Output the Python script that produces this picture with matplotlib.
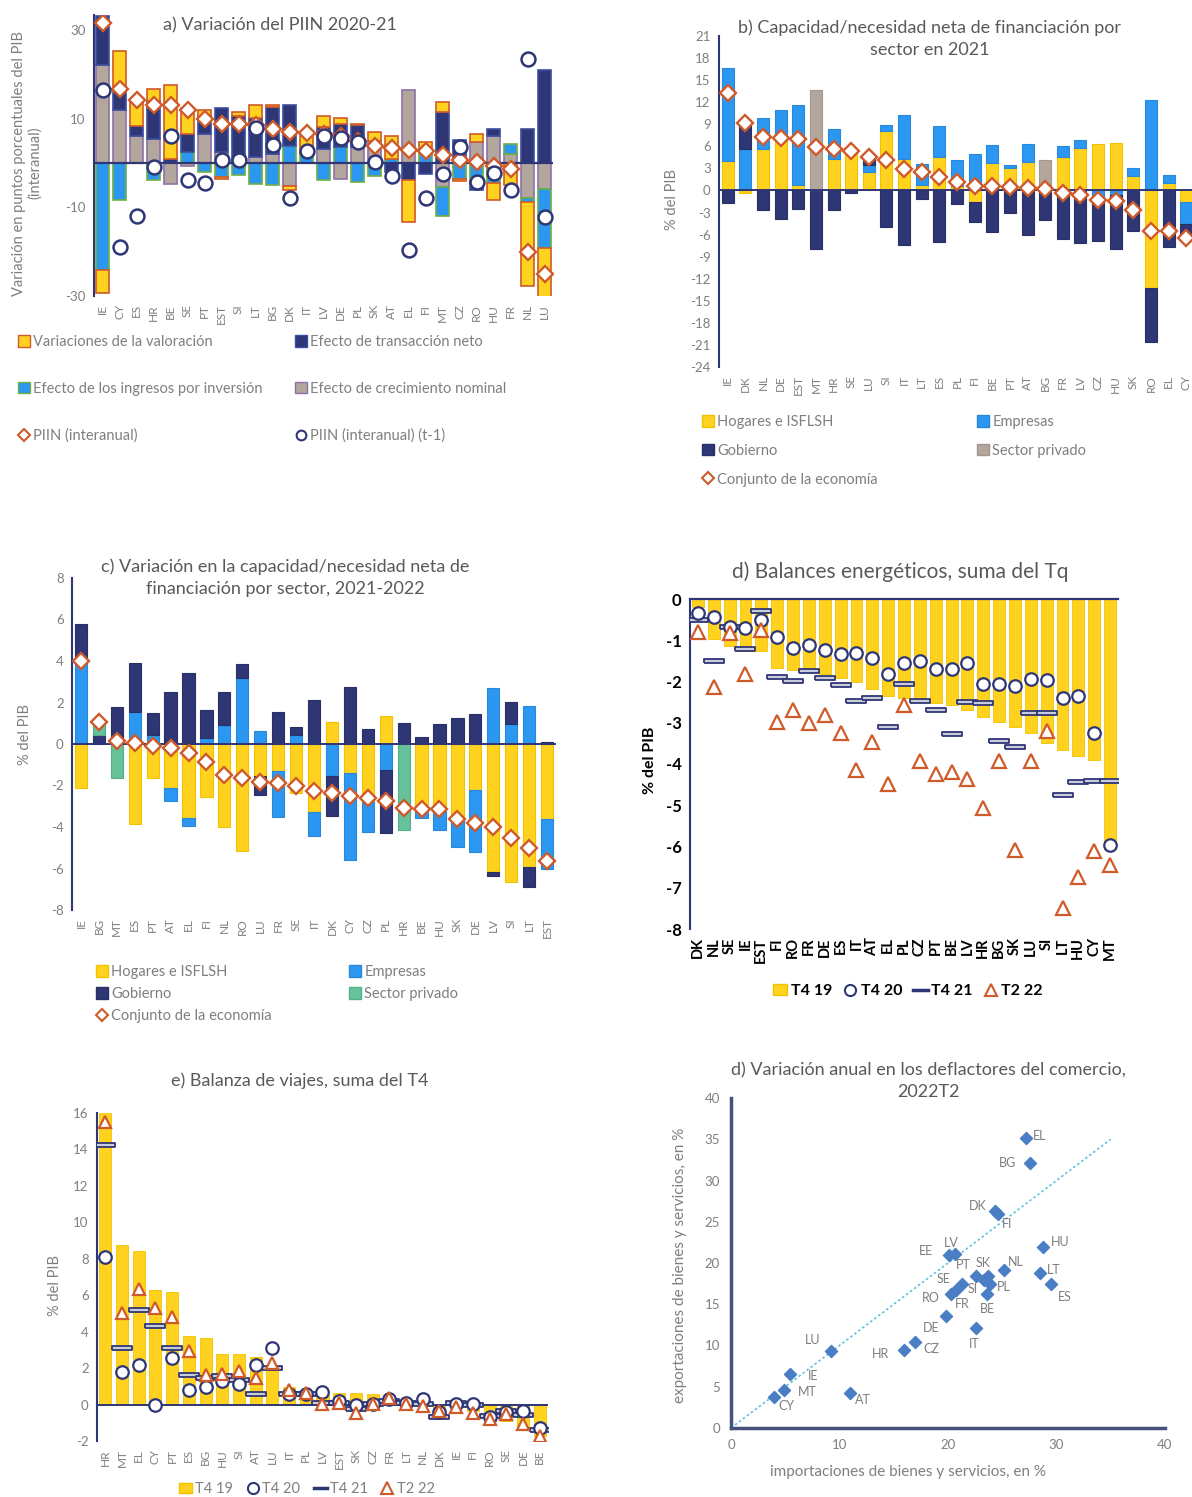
import numpy as np
import matplotlib
matplotlib.use("Agg")
import matplotlib.pyplot as plt
from matplotlib.patches import Patch
from matplotlib.lines import Line2D

# ---------------- data ----------------
# a) Variación del PIIN 2020-21
paises_a = ['IE', 'CY', 'ES', 'HR', 'BE', 'SE', 'PT', 'EST', 'SI', 'LT', 'BG', 'DK', 'IT', 'LV',
            'DE', 'PL', 'SK', 'AT', 'EL', 'FI', 'MT', 'CZ', 'RO', 'HU', 'FR', 'NL', 'LU']
crecimiento_a = [22, 11.9, 6, 5.5, -4.7, -0.7, 6.6, 2.5, 0, 1.4, 2.1, -5.2, 0, 3.2,
                 -3.5, 3.5, 5, 0, 16.5, 0, -5.4, 0, 4.7, 6.2, 2.1, -8, -5.8]
ingresos_a = [-24.2, -8.4, 0, -3.9, 0, 2.5, -2, -3.2, -2.6, -4.7, -5, 3.75, 2, -3.9,
              3.5, -4.3, -3, 1, 0, 2.5, -6.5, -3.6, -4, -4.5, 2.2, -0.7, -13.3]
transaccion_a = [11.2, 4.1, 2.3, 8.6, 1, 4, 3.9, 10, 10.5, 8.8, 10.5, 9.35, 0, 4.9,
                 5.4, 5, 0, -2, -3.9, -2.4, 11.5, 5.3, -2, 1.4, 0, 7.7, 20.9]
valoracion_a = [-5.1, 9.2, 5.8, 2.6, 16.7, 6, 1.5, -0.4, 1.0, 2.8, 0.5, -0.9, 4, 2.4,
                1.3, 0.3, 2, 5, -9.5, 2.3, 2.2, -0.4, 1.8, -3.8, -5, -19, -11.1]
piin_a = [31.5, 16.8, 14.2, 13, 13, 12, 10, 8.9, 8.9, 8.5, 7.7, 7.1, 6.8, 6.5,
          6, 5, 3.8, 3.4, 3.0, 2.6, 1.9, 0.6, 0.2, -0.7, -1.4, -20, -25]
piin_t1_a = [16.5, -19, -11.9, -1.0, 6.2, -3.8, -4.5, 0.7, 0.6, 8, 4.1, -7.8, 2.6, 6.2,
             5.7, 4.8, 0.2, -3, -19.6, -8, -2.5, 3.6, -4.3, -2.25, -6, 23.5, -12.2]

# b) Capacidad/necesidad neta de financiación por sector en 2021
paises_b = ['IE', 'DK', 'NL', 'DE', 'EST', 'MT', 'HR', 'SE', 'LU', 'SI', 'IT', 'LT', 'ES', 'PL',
            'FI', 'BE', 'PT', 'AT', 'BG', 'FR', 'LV', 'CZ', 'HU', 'SK', 'RO', 'EL', 'CY']
hogares_b = [3.95, -0.4, 5.7, 7.7, 0.75, 0, 4.3, 5.5, 2.5, 8.15, 4.3, 0.75, 4.6, 0.6,
             -1.5, 3.7, 3.05, 3.85, 0, 4.6, 5.8, 6.35, 6.5, 1.9, -13.2, 1.0, -1.5]
empresas_b = [12.75, 5.7, 4.2, 3.3, 10.85, 0, 4.0, 0, 0.9, 0.7, 5.9, 2.85, 4.1, 3.6,
              5.0, 2.5, 0.45, 2.5, 0, 1.5, 1.1, -0.9, -0.6, 1.15, 12.35, 1.15, -3.1]
gobierno_b = [-1.7, 3.9, -2.7, -3.85, -2.5, -7.9, -2.7, -0.4, 1.1, -4.9, -7.4, -1.1, -7.0, -1.9,
              -2.8, -5.7, -3.05, -6.0, -4.0, -6.65, -7.1, -6.0, -7.4, -5.5, -7.4, -7.7, -1.95]
privado_b = [0, 0, 0, 0, 0, 13.7, 0, 0, 0, 0, 0, 0, 0, 0,
             0, 0, 0, 0, 4.15, 0, 0, 0, 0, 0, 0, 0, 0]
conjunto_b = [13.3, 9.15, 7.3, 7.2, 7.05, 5.85, 5.6, 5.4, 4.5, 4.1, 2.9, 2.5, 1.8, 1.15,
              0.6, 0.55, 0.5, 0.35, 0.2, -0.4, -0.6, -1.3, -1.45, -2.65, -5.5, -5.5, -6.4]

# c) Variación en la capacidad/necesidad neta de financiación, 2021-2022
paises_c = ['IE', 'BG', 'MT', 'ES', 'PT', 'AT', 'EL', 'FI', 'NL', 'RO', 'LU', 'FR', 'SE', 'IT',
            'DK', 'CY', 'CZ', 'PL', 'HR', 'BE', 'HU', 'SK', 'DE', 'LV', 'SI', 'LT', 'EST']
hogares_c = [-2.1, 0, 0, -3.87, -1.65, -2.1, -3.55, -2.54, -4.0, -5.15, -1.55, -1.3, -2.35, -3.26,
             1.08, -1.41, -2.78, 1.37, 0, -3.2, -3.23, -3.5, -2.22, -6.16, -6.64, -5.95, -3.63]
empresas_c = [3.97, 0, 0, 1.56, 0.45, -0.63, -0.4, 0.27, 0.92, 3.2, 0.63, -2.2, 0.43, -1.18,
              -1.54, -4.19, -1.45, -1.25, 0, -0.35, -0.92, -1.45, -3.0, 2.72, 0.96, 1.85, -2.37]
gobierno_c = [1.83, 0.45, 1.77, 2.34, 1.05, 2.52, 3.4, 1.37, 1.6, 0.64, -0.91, 1.56, 0.37, 2.12,
              -1.93, 2.77, 0.72, -3.05, 1.03, 0.32, 0.96, 1.27, 1.43, -0.21, 1.08, -0.93, 0.08]
privado_c = [0, 0.55, -1.62, 0, 0, 0, 0, 0, 0, 0, 0, 0, 0, 0,
             0, 0, 0, 0, -4.15, 0, 0, 0, 0, 0, 0, 0, 0]
conjunto_c = [4.0, 1.05, 0.15, 0.05, -0.1, -0.2, -0.42, -0.85, -1.5, -1.65, -1.82, -1.87, -2.03, -2.27,
              -2.38, -2.5, -2.62, -2.73, -3.07, -3.15, -3.15, -3.63, -3.8, -3.99, -4.55, -5.0, -5.63]

# d) Balances energéticos
paises_d = ['DK', 'NL', 'SE', 'IE', 'EST', 'FI', 'RO', 'FR', 'DE', 'ES', 'IT', 'AT', 'EL', 'PL',
            'CZ', 'PT', 'BE', 'LV', 'HR', 'BG', 'SK', 'LU', 'SI', 'LT', 'HU', 'CY', 'MT']
t419_d = [-0.19, -0.97, -1.13, -1.27, -1.27, -1.67, -1.71, -1.75, -1.83, -1.91, -2.02, -2.19, -2.34, -2.4,
          -2.48, -2.53, -2.56, -2.68, -2.85, -2.98, -3.1, -3.26, -3.48, -3.65, -3.81, -3.9, -6.06]
t420_d = [-0.34, -0.44, -0.68, -0.7, -0.52, -0.92, -1.19, -1.12, -1.24, -1.33, -1.31, -1.44, -1.81, -1.56,
          -1.51, -1.69, -1.69, -1.55, -2.05, -2.05, -2.1, -1.95, -1.97, -2.4, -2.34, -3.24, -5.96]
t421_d = [-0.5, -1.51, -0.69, -1.21, -0.3, -1.9, -1.99, -1.75, -1.91, -2.09, -2.48, -2.4, -3.1, -2.05,
          -2.48, -2.7, -3.27, -2.5, -2.53, -3.44, -3.58, -2.77, -2.77, -4.75, -4.44, -4.41, -4.41]
t222_d = [-0.8, -2.14, -0.82, -1.83, -0.74, -2.98, -2.7, -3.0, -2.82, -3.26, -4.15, -3.47, -4.49, -2.56,
          -3.93, -4.25, -4.19, -4.37, -5.06, -3.93, -6.09, -3.93, -3.2, -7.5, -6.75, -6.12, -6.45]

# e) Balanza de viajes
paises_e = ['HR', 'MT', 'EL', 'CY', 'PT', 'ES', 'BG', 'HU', 'SI', 'AT', 'LU', 'IT', 'PL', 'LV',
            'EST', 'SK', 'CZ', 'FR', 'LT', 'NL', 'DK', 'IE', 'FI', 'RO', 'SE', 'DE', 'BE']
t419_e = [16.1, 8.75, 8.44, 6.28, 6.19, 3.77, 3.63, 2.8, 2.8, 2.62, 2.03, 0.97, 0.79, 0.57,
          0.62, 0.62, 0.57, 0.38, 0.2, 0.1, -0.71, -0.07, -0.35, -0.53, -0.9, -1.21, -1.72]
t420_e = [8.08, 1.8, 2.16, -0.04, 2.53, 0.8, 0.99, 1.3, 1.12, 2.16, 3.13, 0.57, 0.57, 0.71,
          0.2, -0.04, 0.02, 0.29, 0.11, 0.29, -0.4, 0.02, 0.02, -0.71, -0.4, -0.35, -1.26]
t421_e = [14.25, 3.13, 5.18, 4.32, 3.08, 1.61, 1.43, 1.57, 1.34, 0.57, 2.03, 0.57, 0.57, 0.11,
          0.1, -0.22, 0.02, 0.2, 0.11, 0.02, -0.71, 0.11, -0.04, -0.62, -0.35, -0.59, -1.39]
t222_e = [15.5, 5.02, 6.34, 5.29, 4.82, 2.95, 1.63, 1.7, 1.85, 1.48, 2.3, 0.79, 0.66, 0.02,
          0.1, -0.48, 0.05, 0.38, 0.02, -0.07, -0.35, -0.16, -0.44, -0.81, -0.53, -1.04, -1.72]

# f) Deflactores del comercio 2022T2
paises_f = ['EL', 'BG', 'DK', 'FI', 'HU', 'EE', 'LV', 'NL', 'LT', 'ES', 'PT', 'SK', 'SE', 'SI',
            'RO', 'FR', 'PL', 'BE', 'DE', 'IT', 'CZ', 'HR', 'LU', 'IE', 'MT', 'CY', 'AT']
importaciones_f = [27.2, 27.6, 24.3, 24.6, 28.8, 20.1, 20.6, 25.2, 28.5, 29.5, 22.6, 23.7, 21.3, 23.3,
                   20.3, 20.7, 23.9, 23.6, 19.8, 22.6, 17.0, 15.9, 9.2, 5.4, 4.9, 4.0, 11.0]
exportaciones_f = [35.2, 32.1, 26.3, 26.0, 21.9, 21.0, 21.1, 19.2, 18.8, 17.5, 18.4, 18.4, 17.4, 17.9,
                   16.2, 16.7, 17.4, 16.2, 13.6, 12.1, 10.4, 9.5, 9.3, 6.6, 4.6, 3.7, 4.2]
linea_45 = [0, 35]

# label offsets for panel f (pixels, dx right / dy up)
offs_f = [(14, 2), (-23, 0), (-17, 5), (9, -10), (17, 5), (-23, 4), (-3, 11), (11, 8), (13, 3), (14, -13),
          (-13, 11), (-5, 13), (-19, 5), (-11, -9), (-20, -4), (7, -14), (13, -3), (0, -15), (-15, -12),
          (-2, -16), (16, -7), (-23, -4), (-18, 11), (24, -2), (23, -2), (12, -9), (12, -7)]

# ---------------- style ----------------
AMARILLO = '#FFD21F'
AZUL = '#2B97F0'
MARINO = '#2F3675'
GRIS = '#B3A69C'
VERDE = '#66C29A'
ROJO = '#CF5A2A'
TXT = '#7F7F7F'
TIT = '#595959'

plt.rcParams['font.family'] = ['Lato', 'DejaVu Sans']
plt.rcParams['axes.unicode_minus'] = False

W, H = 1192, 1497
fig = plt.figure(figsize=(W / 100, H / 100), dpi=100)


def box(l, t, r, b):
    return [l / W, 1 - b / H, (r - l) / W, (b - t) / H]


def stacked(ax, series, colors, edges, width, lw):
    n = len(series[0])
    x = np.arange(n)
    pos = np.zeros(n)
    neg = np.zeros(n)
    for vals, c, e in zip(series, colors, edges):
        v = np.asarray(vals, float)
        m = v != 0
        bottom = np.where(v >= 0, pos, neg)
        ax.bar(x[m], v[m], bottom=bottom[m], width=width, color=c, edgecolor=e,
               linewidth=lw, zorder=2)
        pos += np.clip(v, 0, None)
        neg += np.clip(v, None, 0)


def base(ax, cats, ylim, yticks, tcol=TXT, ysize=9.5, xsize=8.5, weight='normal'):
    ax.set_xlim(-0.5, len(cats) - 0.5)
    ax.set_ylim(*ylim)
    ax.set_xticks(range(len(cats)))
    ax.set_xticklabels(cats, rotation=90, fontsize=xsize, color=tcol, fontweight=weight)
    ax.set_yticks(yticks)
    ax.set_yticklabels([str(t) for t in yticks], fontsize=ysize, color=tcol, fontweight=weight)
    ax.tick_params(length=0, pad=6)
    for s in ['top', 'right', 'bottom']:
        ax.spines[s].set_visible(False)
    ax.spines['left'].set_color(MARINO)
    ax.spines['left'].set_linewidth(1.5)
    ax.set_facecolor('none')


def col_legend(handles, labels, x, y, spacing, color=TXT, size=10.5, weight='normal'):
    leg = fig.legend(handles, labels, loc='upper left', bbox_to_anchor=(x / W, 1 - y / H),
                     frameon=False, handlelength=0.8, handleheight=0.8, handletextpad=0.25,
                     labelspacing=spacing, borderpad=0, borderaxespad=0,
                     prop={'size': size, 'weight': weight})
    for t in leg.get_texts():
        t.set_color(color)
    return leg


def dia(c=ROJO):
    return Line2D([], [], marker='D', ls='none', mfc='white', mec=c, mew=1.5, ms=6)


def circ():
    return Line2D([], [], marker='o', ls='none', mfc='white', mec=MARINO, mew=1.5, ms=7)


dash = [(-0.5, -0.1), (0.5, -0.1), (0.5, 0.1), (-0.5, 0.1), (-0.5, -0.1)]

# ---------------- panel a ----------------
ax = fig.add_axes(box(94, 14.5, 553, 296))
stacked(ax, [crecimiento_a, ingresos_a, transaccion_a, valoracion_a],
        [GRIS, AZUL, MARINO, AMARILLO], ['#8E6FA8', '#6DAE45', '#3A4FA0', ROJO], 0.72, 1.2)
ax.axhline(0, color=MARINO, lw=1.6, zorder=3)
xa = np.arange(len(paises_a))
ax.plot(xa, piin_a, ls='none', marker='D', ms=8.5, mfc='white', mec=ROJO, mew=1.7, zorder=4)
ax.plot(xa, piin_t1_a, ls='none', marker='o', ms=10, mfc='white', mec=MARINO, mew=1.8, zorder=5)
base(ax, paises_a, (-30, 33.5), [-30, -10, 10, 30])
fig.text(280 / W, 1 - 25 / H, 'a) Variación del PIIN 2020-21', ha='center', va='center',
         fontsize=13, color=TIT)
fig.text(27 / W, 1 - 163 / H, 'Variación en puntos porcentuales del PIB\n(interanual)',
         rotation=90, ha='center', va='center', fontsize=10.5, color=TXT, linespacing=1.2)
col_legend([Patch(fc=AMARILLO, ec=ROJO), Patch(fc=AZUL, ec='#6DAE45'), dia()],
           ['Variaciones de la valoración', 'Efecto de los ingresos por inversión', 'PIIN (interanual)'],
           18, 335, 2.25)
col_legend([Patch(fc=MARINO, ec='#3A4FA0'), Patch(fc=GRIS, ec='#8E6FA8'), circ()],
           ['Efecto de transacción neto', 'Efecto de crecimiento nominal', 'PIIN (interanual) (t-1)'],
           295, 335, 2.25)

# ---------------- panel b ----------------
ax = fig.add_axes(box(719, 36, 1195, 367))
stacked(ax, [hogares_b, empresas_b, gobierno_b, privado_b],
        [AMARILLO, AZUL, MARINO, GRIS], ['#F2C200', '#2A88DA', '#283066', '#A3968C'], 0.68, 0.8)
ax.axhline(0, color=MARINO, lw=1.4, zorder=3)
ax.plot(np.arange(len(paises_b)), conjunto_b, ls='none', marker='D', ms=8.5, mfc='white',
        mec=ROJO, mew=1.7, zorder=4)
base(ax, paises_b, (-24, 21), list(range(-24, 22, 3)))
fig.text(930 / W, 1 - 39 / H, 'b) Capacidad/necesidad neta de financiación por\nsector en 2021',
         ha='center', va='center', fontsize=13, color=TIT, linespacing=1.45)
fig.text(672 / W, 1 - 200 / H, '% del PIB', rotation=90, ha='center', va='center',
         fontsize=10.5, color=TXT)
col_legend([Patch(fc=AMARILLO, ec='#F2C200'), Patch(fc=MARINO, ec='#283066'), dia()],
           ['Hogares e ISFLSH', 'Gobierno', 'Conjunto de la economía'], 702, 415, 1.02)
col_legend([Patch(fc=AZUL, ec='#2A88DA'), Patch(fc=GRIS, ec='#A3968C')],
           ['Empresas', 'Sector privado'], 977, 415, 1.02)

# ---------------- panel c ----------------
ax = fig.add_axes(box(72, 578, 556, 910))
stacked(ax, [hogares_c, empresas_c, gobierno_c, privado_c],
        [AMARILLO, AZUL, MARINO, VERDE], ['#F2C200', '#2A88DA', '#283066', '#55AF88'], 0.68, 0.8)
ax.axhline(0, color=MARINO, lw=1.4, zorder=3)
ax.plot(np.arange(len(paises_c)), conjunto_c, ls='none', marker='D', ms=8.5, mfc='white',
        mec=ROJO, mew=1.7, zorder=4)
base(ax, paises_c, (-8, 8), list(range(-8, 9, 2)))
fig.text(285 / W, 1 - 578 / H, 'c) Variación en la capacidad/necesidad neta de\nfinanciación por sector, 2021-2022',
         ha='center', va='center', fontsize=13, color=TIT, linespacing=1.45)
fig.text(25 / W, 1 - 735 / H, '% del PIB', rotation=90, ha='center', va='center',
         fontsize=10.5, color=TXT)
col_legend([Patch(fc=AMARILLO, ec='#F2C200'), Patch(fc=MARINO, ec='#283066'), dia()],
           ['Hogares e ISFLSH', 'Gobierno', 'Conjunto de la economía'], 96, 965, 0.55)
col_legend([Patch(fc=AZUL, ec='#2A88DA'), Patch(fc=VERDE, ec='#55AF88')],
           ['Empresas', 'Sector privado'], 349, 965, 0.55)

# ---------------- panel d ----------------
ax = fig.add_axes(box(690, 599, 1118, 929))
xd = np.arange(len(paises_d))
ax.bar(xd, t419_d, width=0.75, color=AMARILLO, edgecolor='#F2C200', lw=0.6, zorder=2)
ax.plot(xd, t421_d, ls='none', marker=dash, ms=15, mfc='#C9CCDA', mec=MARINO, mew=1.3, zorder=3)
ax.plot(xd, t420_d, ls='none', marker='o', ms=9, mfc='white', mec=MARINO, mew=1.6, zorder=4)
ax.plot(xd, t222_d, ls='none', marker='^', ms=10, mfc='white', mec=ROJO, mew=1.6, zorder=4)
base(ax, paises_d, (-8, 0), list(range(-8, 1)), tcol='#000000', ysize=12, xsize=10.5, weight='bold')
ax.spines['top'].set_visible(True)
ax.spines['top'].set_color(MARINO)
ax.spines['top'].set_linewidth(1.6)
fig.text(900 / W, 1 - 572 / H, 'd) Balances energéticos, suma del Tq', ha='center', va='center',
         fontsize=15, color=TIT)
fig.text(650 / W, 1 - 760 / H, '% del PIB', rotation=90, ha='center', va='center',
         fontsize=11.5, color='#000000', fontweight='bold')
leg = fig.legend([Patch(fc=AMARILLO, ec='#F2C200'),
                  Line2D([], [], marker='o', ls='none', mfc='white', mec=MARINO, mew=1.5, ms=8),
                  Line2D([], [], color=MARINO, lw=2.5),
                  Line2D([], [], marker='^', ls='none', mfc='white', mec=ROJO, mew=1.5, ms=9)],
                 ['T4 19', 'T4 20', 'T4 21', 'T2 22'], loc='center', ncol=4,
                 bbox_to_anchor=(908 / W, 1 - 991 / H), frameon=False, handlelength=0.9,
                 handletextpad=0.2, columnspacing=0.7, prop={'size': 11.5, 'weight': 'bold'})

# ---------------- panel e ----------------
ax = fig.add_axes(box(97, 1113, 548, 1441))
xe = np.arange(len(paises_e))
ax.bar(xe, t419_e, width=0.72, color=AMARILLO, edgecolor='#F2C200', lw=0.6, zorder=2)
ax.axhline(0, color=MARINO, lw=1.4, zorder=3)
ax.plot(xe, t421_e, ls='none', marker=dash, ms=15, mfc='#C9CCDA', mec=MARINO, mew=1.3, zorder=4)
ax.plot(xe, t420_e, ls='none', marker='o', ms=9, mfc='white', mec=MARINO, mew=1.6, zorder=5)
ax.plot(xe, t222_e, ls='none', marker='^', ms=9, mfc='white', mec=ROJO, mew=1.6, zorder=5)
base(ax, paises_e, (-2, 16), list(range(-2, 17, 2)))
fig.text(300 / W, 1 - 1081 / H, 'e) Balanza de viajes, suma del T4', ha='center', va='center',
         fontsize=13, color=TIT)
fig.text(55 / W, 1 - 1285 / H, '% del PIB', rotation=90, ha='center', va='center',
         fontsize=10.5, color=TXT)
leg = fig.legend([Patch(fc=AMARILLO, ec='#F2C200'),
                  Line2D([], [], marker='o', ls='none', mfc='white', mec=MARINO, mew=1.5, ms=8),
                  Line2D([], [], color=MARINO, lw=2.5),
                  Line2D([], [], marker='^', ls='none', mfc='white', mec=ROJO, mew=1.5, ms=8)],
                 ['T4 19', 'T4 20', 'T4 21', 'T2 22'], loc='center', ncol=4,
                 bbox_to_anchor=(307 / W, 1 - 1489 / H), frameon=False, handlelength=0.9,
                 handletextpad=0.2, columnspacing=0.9, prop={'size': 10.5})
for t in leg.get_texts():
    t.set_color(TXT)

# ---------------- panel f ----------------
ax = fig.add_axes(box(731, 1098, 1165, 1428))
ax.plot(linea_45, linea_45, ls=(0, (1.5, 1.5)), color='#5CC3DE', lw=1.2, zorder=1)
ax.scatter(importaciones_f, exportaciones_f, marker='D', s=38, color='#4A7EC4', zorder=3)
for name, x, y, (dx, dy) in zip(paises_f, importaciones_f, exportaciones_f, offs_f):
    ax.annotate(name, (x, y), xytext=(dx * 0.72, dy * 0.72), textcoords='offset points',
                ha='center', va='center', fontsize=9, color=TXT)
ax.set_xlim(0, 40)
ax.set_ylim(0, 40)
ax.set_xticks(range(0, 41, 10))
ax.set_yticks(range(0, 41, 5))
ax.tick_params(length=0, pad=8, labelsize=9.5, labelcolor=TXT)
for s in ['top', 'right']:
    ax.spines[s].set_visible(False)
for s in ['left', 'bottom']:
    ax.spines[s].set_color('#46527E')
    ax.spines[s].set_linewidth(2.5)
ax.set_facecolor('none')
fig.text(928 / W, 1 - 1081 / H, 'd) Variación anual en los deflactores del comercio,\n2022T2',
         ha='center', va='center', fontsize=13, color=TIT, linespacing=1.45)
fig.text(680 / W, 1 - 1265 / H, 'exportaciones de bienes y servicios, en %', rotation=90,
         ha='center', va='center', fontsize=11, color=TXT)
fig.text(908 / W, 1 - 1472 / H, 'importaciones de bienes y servicios, en %', ha='center',
         va='center', fontsize=11, color=TXT)

fig.savefig('out.png', dpi=100)
